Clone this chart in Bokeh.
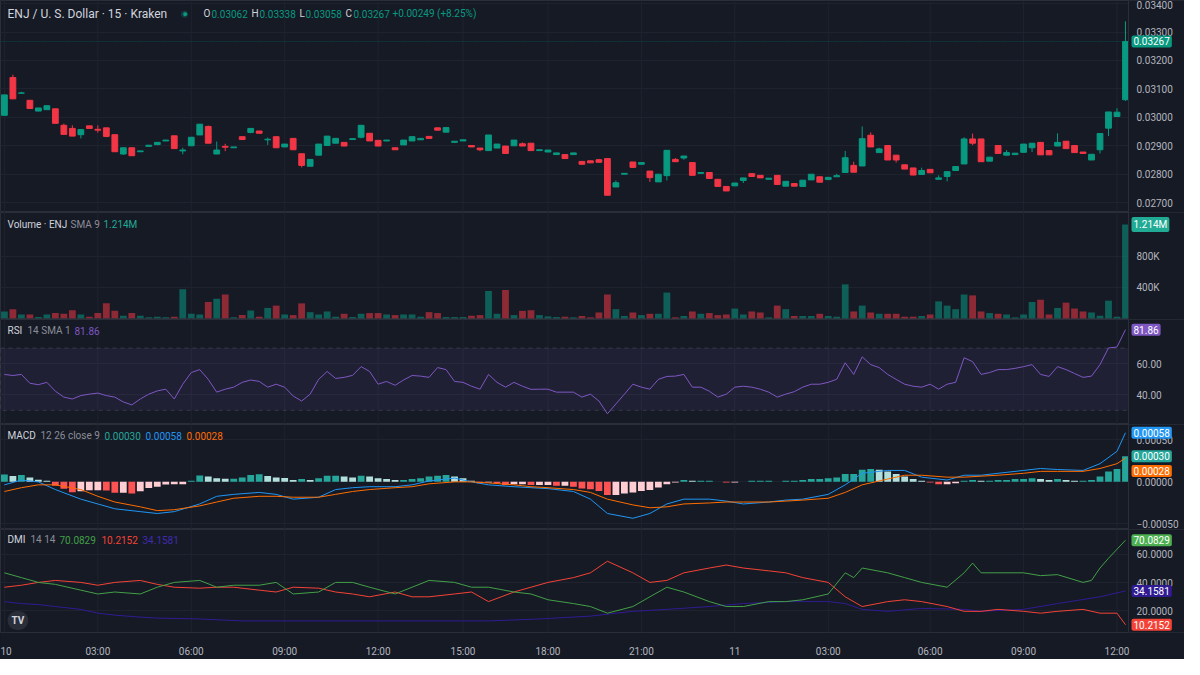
from bokeh.plotting import figure
from bokeh.models import Range1d, FixedTicker, Label, ColumnDataSource, Span, BoxAnnotation, PrintfTickFormatter
from bokeh.layouts import column
from bokeh.embed import file_html
from bokeh.resources import INLINE

# ---------------- data ----------------
opens = [0.03007,0.03140,0.03085,0.03060,0.03022,0.03027,0.03030,0.02972,0.02961,0.02939,
         0.02970,0.02958,0.02963,0.02939,0.02871,0.02893,0.02879,0.02898,0.02904,0.02917,
         0.02935,0.02882,0.02900,0.02938,0.02968,0.02871,0.02898,0.02893,0.02932,0.02947,
         0.02952,0.02921,0.02932,0.02896,0.02926,0.02872,0.02828,0.02867,0.02901,0.02909,
         0.02912,0.02922,0.02930,0.02944,0.02919,0.02917,0.02893,0.02903,0.02917,0.02921,
         0.02933,0.02963,0.02948,0.02912,0.02917,0.02901,0.02892,0.02883,0.02892,0.02899,
         0.02900,0.02907,0.02909,0.02883,0.02878,0.02869,0.02869,0.02869,0.02845,0.02847,
         0.02851,0.02855,0.02755,0.02800,0.02843,0.02835,0.02811,0.02773,0.02795,0.02852,
         0.02857,0.02841,0.02803,0.02806,0.02782,0.02757,0.02759,0.02778,0.02802,0.02796,
         0.02782,0.02796,0.02758,0.02767,0.02757,0.02780,0.02791,0.02781,0.02791,0.02806,
         0.02831,0.02829,0.02937,0.02876,0.02901,0.02867,0.02833,0.02822,0.02799,0.02817,
         0.02782,0.02792,0.02813,0.02836,0.02924,0.02924,0.02846,0.02901,0.02867,0.02869,
         0.02877,0.02893,0.02912,0.02883,0.02899,0.02916,0.02901,0.02878,0.02850,0.02886,
         0.02962,0.03003,0.03062]
highs = [0.03079,0.03150,0.03090,0.03060,0.03033,0.03043,0.03030,0.02978,0.02972,0.02957,
         0.02970,0.02972,0.02963,0.02939,0.02893,0.02893,0.02882,0.02902,0.02912,0.02920,
         0.02935,0.02893,0.02930,0.02976,0.02971,0.02915,0.02907,0.02896,0.02932,0.02961,
         0.02952,0.02929,0.02932,0.02906,0.02926,0.02872,0.02852,0.02906,0.02934,0.02926,
         0.02912,0.02925,0.02972,0.02944,0.02919,0.02920,0.02893,0.02920,0.02934,0.02926,
         0.02933,0.02963,0.02964,0.02916,0.02921,0.02901,0.02892,0.02938,0.02906,0.02899,
         0.02920,0.02912,0.02909,0.02886,0.02885,0.02875,0.02869,0.02875,0.02845,0.02847,
         0.02854,0.02855,0.02778,0.02803,0.02843,0.02841,0.02811,0.02800,0.02884,0.02857,
         0.02864,0.02841,0.02806,0.02806,0.02782,0.02757,0.02769,0.02787,0.02802,0.02796,
         0.02786,0.02796,0.02775,0.02767,0.02779,0.02800,0.02791,0.02789,0.02802,0.02882,
         0.02844,0.02968,0.02947,0.02893,0.02901,0.02867,0.02833,0.02822,0.02823,0.02817,
         0.02796,0.02809,0.02827,0.02930,0.02943,0.02924,0.02860,0.02901,0.02885,0.02874,
         0.02906,0.02909,0.02912,0.02883,0.02944,0.02916,0.02901,0.02878,0.02870,0.02943,
         0.03019,0.03032,0.03338]
lows = [0.03007,0.03065,0.03083,0.03031,0.03022,0.03027,0.02979,0.02940,0.02934,0.02926,
        0.02961,0.02946,0.02930,0.02879,0.02868,0.02865,0.02879,0.02898,0.02904,0.02917,
        0.02890,0.02870,0.02900,0.02938,0.02909,0.02871,0.02881,0.02893,0.02922,0.02944,
        0.02944,0.02903,0.02893,0.02896,0.02886,0.02824,0.02828,0.02867,0.02901,0.02909,
        0.02899,0.02922,0.02926,0.02917,0.02899,0.02917,0.02886,0.02903,0.02917,0.02921,
        0.02926,0.02955,0.02948,0.02912,0.02917,0.02896,0.02881,0.02883,0.02892,0.02873,
        0.02900,0.02899,0.02883,0.02883,0.02878,0.02869,0.02855,0.02869,0.02835,0.02840,
        0.02842,0.02726,0.02755,0.02800,0.02824,0.02835,0.02773,0.02773,0.02778,0.02844,
        0.02851,0.02796,0.02803,0.02785,0.02757,0.02741,0.02759,0.02769,0.02792,0.02787,
        0.02782,0.02764,0.02758,0.02758,0.02757,0.02780,0.02772,0.02781,0.02791,0.02806,
        0.02807,0.02829,0.02896,0.02876,0.02850,0.02841,0.02818,0.02797,0.02799,0.02805,
        0.02782,0.02775,0.02813,0.02836,0.02902,0.02844,0.02846,0.02873,0.02867,0.02869,
        0.02877,0.02878,0.02868,0.02868,0.02899,0.02890,0.02876,0.02873,0.02850,0.02873,
        0.02934,0.03003,0.03058]
closes = [0.03079,0.03065,0.03086,0.03031,0.03033,0.03041,0.02979,0.02940,0.02934,0.02957,
          0.02961,0.02955,0.02933,0.02879,0.02893,0.02865,0.02882,0.02902,0.02912,0.02920,
          0.02890,0.02885,0.02930,0.02976,0.02909,0.02885,0.02895,0.02896,0.02922,0.02961,
          0.02944,0.02923,0.02893,0.02906,0.02886,0.02831,0.02852,0.02906,0.02934,0.02926,
          0.02899,0.02925,0.02972,0.02917,0.02899,0.02920,0.02886,0.02920,0.02932,0.02926,
          0.02926,0.02955,0.02964,0.02916,0.02921,0.02896,0.02886,0.02938,0.02906,0.02873,
          0.02920,0.02899,0.02883,0.02886,0.02885,0.02875,0.02855,0.02875,0.02835,0.02840,
          0.02842,0.02726,0.02770,0.02803,0.02824,0.02841,0.02788,0.02800,0.02884,0.02844,
          0.02864,0.02796,0.02806,0.02785,0.02757,0.02741,0.02769,0.02787,0.02792,0.02787,
          0.02786,0.02764,0.02775,0.02758,0.02779,0.02800,0.02772,0.02789,0.02795,0.02858,
          0.02807,0.02925,0.02896,0.02889,0.02850,0.02850,0.02818,0.02797,0.02813,0.02805,
          0.02787,0.02809,0.02827,0.02924,0.02909,0.02844,0.02860,0.02873,0.02876,0.02874,
          0.02906,0.02909,0.02868,0.02868,0.02912,0.02890,0.02876,0.02873,0.02870,0.02943,
          0.03019,0.03018,0.03267]
volumes = [89e3,119e3,50e3,50e3,17e3,50e3,68e3,59e3,105e3,50e3,
           21e3,68e3,194e3,97e3,34e3,68e3,34e3,13e3,21e3,13e3,
           21e3,376e3,59e3,50e3,212e3,254e3,309e3,13e3,42e3,102e3,
           21e3,135e3,165e3,50e3,42e3,194e3,80e3,50e3,89e3,21e3,
           59e3,17e3,59e3,68e3,68e3,50e3,42e3,50e3,50e3,21e3,
           80e3,68e3,17e3,17e3,17e3,34e3,42e3,355e3,59e3,367e3,
           42e3,97e3,105e3,42e3,25e3,17e3,21e3,13e3,30e3,13e3,
           76e3,309e3,119e3,30e3,76e3,42e3,59e3,59e3,334e3,13e3,
           30e3,89e3,59e3,68e3,42e3,50e3,127e3,50e3,89e3,76e3,
           13e3,165e3,119e3,30e3,30e3,30e3,59e3,30e3,21e3,440e3,
           89e3,165e3,76e3,59e3,59e3,59e3,21e3,21e3,30e3,50e3,
           220e3,165e3,119e3,309e3,297e3,89e3,68e3,59e3,50e3,13e3,
           50e3,212e3,241e3,50e3,135e3,203e3,127e3,89e3,76e3,34e3,
           229e3,21e3,1214e3]

rsi = [53.1,52.4,53.1,47.4,46.5,48.0,42.3,38.5,37.3,39.5,40.4,41.1,39.5,38.5,35.4,33.5,37.3,40.4,42.5,43.6,
       37.3,46.8,54.3,56.2,49.9,41.7,43.6,44.9,48.0,49.5,48.6,44.9,46.8,44.9,39.2,36.0,40.4,49.9,55.0,50.5,
       51.2,52.5,58.1,55.0,46.8,48.6,46.1,49.5,52.4,52.0,51.2,57.5,56.2,48.6,48.0,45.5,43.6,53.1,48.0,44.9,
       48.0,45.5,43.5,43.6,43.6,41.7,41.7,41.7,38.5,40.4,36.0,27.8,34.1,40.4,46.8,44.9,43.6,49.9,51.8,52.0,
       53.1,44.9,44.9,42.3,38.5,40.4,44.9,45.5,44.9,43.6,41.7,38.5,40.4,42.0,44.9,46.8,46.8,48.0,50.0,60.6,
       53.1,64.4,59.4,57.5,53.1,49.9,46.8,45.5,44.9,46.8,43.6,46.8,48.0,63.8,61.3,53.1,54.3,56.2,56.2,57.0,
       58.1,59.4,53.1,51.8,58.1,56.2,53.7,51.2,52.0,59.4,70.1,70.7,81.86]

macd_idx = [0,2,4,6,9,11,13,16,18,20,23,25,27,30,32,34,37,39,41,43,46,48,50,53,55,57,60,62,64,67,
            69,71,74,76,78,80,83,85,87,90,92,94,97,99,101,104,106,108,111,113,115,117,120,122,124,127,129,131,132]
macd_line = [-0.000038,0.000019,-0.000003,-0.000094,-0.000208,-0.000265,-0.000322,-0.000356,-0.000378,-0.000356,
             -0.000265,-0.000174,-0.000151,-0.000128,-0.000151,-0.000208,-0.000185,-0.000094,-0.000072,-0.000060,
             -0.000060,-0.000038,0.000008,0.000042,-0.000003,-0.000038,-0.000060,-0.000072,-0.000083,-0.000117,
             -0.000208,-0.000378,-0.000435,-0.000378,-0.000265,-0.000208,-0.000208,-0.000231,-0.000265,-0.000242,
             -0.000219,-0.000208,-0.000151,-0.000038,0.000099,0.000133,0.000133,0.000053,0.000019,0.000076,
             0.000076,0.000099,0.000133,0.000156,0.000144,0.000133,0.000213,0.000360,0.00058]
signal_line = [-0.000117,-0.000072,-0.000038,-0.000038,-0.000094,-0.000174,-0.000242,-0.000299,-0.000344,-0.000333,
               -0.000288,-0.000242,-0.000197,-0.000174,-0.000174,-0.000185,-0.000185,-0.000151,-0.000117,-0.000094,
               -0.000072,-0.000060,-0.000026,-0.000003,-0.000003,-0.000015,-0.000038,-0.000060,-0.000072,-0.000094,
               -0.000128,-0.000208,-0.000276,-0.000310,-0.000299,-0.000265,-0.000253,-0.000242,-0.000242,-0.000242,
               -0.000231,-0.000219,-0.000197,-0.000128,-0.000038,0.000031,0.000076,0.000076,0.000053,0.000053,
               0.000065,0.000076,0.000099,0.000122,0.000122,0.000122,0.000156,0.000213,0.00028]
macd_hist = [0.000085,0.000068,0.000080,0.000050,0.000023,0.000011,-0.000049,-0.000083,-0.000125,-0.000114,
             -0.000102,-0.000102,-0.000106,-0.000132,-0.000132,-0.000140,-0.000114,-0.000075,-0.000060,-0.000034,
             -0.000030,-0.000030,0.000011,0.000073,0.000061,0.000039,0.000035,0.000035,0.000050,0.000080,
             0.000087,0.000068,0.000050,0.000042,0.000019,0.000030,0.000020,0.000040,0.000070,0.000070,
             0.000060,0.000050,0.000070,0.000060,0.000040,0.000030,0.000020,0.000020,0.000030,0.000040,
             0.000060,0.000070,0.000080,0.000060,0.000040,0.000010,-0.000020,-0.000010,-0.000020,-0.000040,
             -0.000030,-0.000030,-0.000040,-0.000040,-0.000040,-0.000050,-0.000050,-0.000060,-0.000080,-0.000090,
             -0.000110,-0.000160,-0.000160,-0.000140,-0.000130,-0.000110,-0.000100,-0.000070,-0.000030,-0.000010,
             0.000020,0.000010,0.000010,0.000010,0.000000,-0.000010,-0.000010,0.000000,0.000010,0.000010,
             0.000010,0.000000,0.000010,0.000010,0.000020,0.000030,0.000030,0.000040,0.000050,0.000090,
             0.000090,0.000140,0.000150,0.000140,0.000120,0.000090,0.000060,0.000030,0.000010,-0.000010,
             -0.000030,-0.000030,-0.000020,0.000010,0.000020,0.000010,0.000010,0.000020,0.000020,0.000030,
             0.000030,0.000040,0.000030,0.000020,0.000030,0.000020,0.000010,0.000010,0.000020,0.000060,
             0.000120,0.000150,0.000300]

pdi_idx = [0,2,4,6,9,11,13,16,18,20,23,25,27,30,32,34,37,39,41,43,46,48,50,53,55,57,60,62,64,67,
           69,71,74,76,78,80,83,85,87,90,92,94,97,99,100,101,104,106,108,111,113,114,115,117,120,122,124,127,128,129,130,132]
pdi = [47.0,43.6,40.2,38.8,34.7,32.0,33.4,32.0,36.8,40.2,41.6,36.8,38.2,38.2,40.2,32.0,33.4,40.2,40.2,36.8,
       32.0,36.8,41.6,40.2,36.8,36.8,33.4,32.0,27.9,25.2,23.1,18.4,23.1,30.0,36.8,33.4,26.6,23.1,23.1,26.6,
       26.6,27.9,32.0,47.0,43.6,50.4,47.0,43.6,40.2,36.8,47.0,53.9,47.0,47.0,47.0,45.0,45.7,40.2,41.6,50.4,
       57.3,70.0829]
mdi_idx = [0,2,4,6,9,11,13,16,18,20,23,25,27,30,32,34,37,39,41,43,46,48,50,53,55,57,60,62,64,67,
           69,71,74,76,78,80,83,85,87,90,92,94,97,99,101,104,106,108,111,113,115,117,120,122,124,127,129,131,132]
mdi = [36.8,38.2,40.2,41.6,40.2,38.2,40.2,41.6,38.8,36.8,36.1,36.8,36.8,34.7,33.4,36.8,36.1,33.4,32.0,30.0,
       33.4,30.0,30.0,32.0,33.4,26.6,33.4,36.8,40.2,43.6,47.0,55.2,47.0,40.2,41.6,47.0,50.4,52.5,50.4,48.4,
       47.0,43.6,40.2,30.0,23.1,26.6,27.9,26.6,23.1,19.7,19.7,21.1,19.7,18.4,19.7,21.1,18.4,18.4,10.2152]
adx_idx = [0,2,4,6,9,11,13,16,18,23,28,34,40,46,52,57,63,69,74,78,83,87,92,97,99,101,104,108,113,115,120,124,129,132]
adx = [26.6,25.2,24.5,23.1,21.1,18.4,17.0,15.6,14.9,14.3,12.9,12.9,12.9,12.9,12.9,12.9,14.3,16.3,19.7,21.1,
       23.1,25.2,26.6,26.6,25.2,21.1,19.7,21.8,21.1,19.7,21.1,25.2,30.0,34.1581]

time_tick_idx = [0, 11, 22, 33, 44, 54, 64, 75, 86, 97, 109, 120, 131]
time_tick_labels = ["10", "03:00", "06:00", "09:00", "12:00", "15:00", "18:00", "21:00",
                    "11", "03:00", "06:00", "09:00", "12:00"]
price_ticks = [0.027, 0.028, 0.029, 0.030, 0.031, 0.032, 0.033, 0.034]
volume_ticks = [400000, 800000]
volume_tick_labels = ["400K", "800K"]
rsi_ticks = [40, 60]
macd_ticks = [-0.0005, 0.0, 0.0005]
macd_tick_labels = ["\u22120.00050", "0.00000", "0.00050"]
dmi_ticks = [20, 40, 60]

# ---------------- style ----------------
BG = "#161a25"
GRID = "#1f2330"
BORDER = "#2a2e39"
TXT = "#b2b5be"
TITLE = "#d1d4dc"
DIM = "#8b8e98"
UP = "#089981"
DN = "#f23645"
FONT = "Roboto"
W = 1184
FW = 1128            # width of the chart area; the price scale sits to its right
PX = 8.493           # pixels per bar
X0 = -0.46
XEND = X0 + W / PX
XSCALE = X0 + FW / PX  # boundary between chart area and price scale (in bar units)

n = len(opens)
idx = list(range(n))
xr = Range1d(X0, XEND)


def make_fig(h, yr, ticks, fmt=None, overrides=None, bottom=0, xaxis=False):
    p = figure(width=W, height=h, x_range=xr, y_range=Range1d(*yr), output_backend="svg",
               toolbar_location=None, y_axis_location="right",
               x_axis_location="below" if xaxis else None,
               min_border_left=0, min_border_right=0, min_border_top=0, min_border_bottom=bottom,
               background_fill_color=BG, border_fill_color=BG, outline_line_color=BORDER)
    p.xgrid.visible = False
    ax = p.yaxis[0]
    ax.ticker = FixedTicker(ticks=ticks)
    if fmt:
        ax.formatter = PrintfTickFormatter(format=fmt)
    if overrides:
        ax.major_label_overrides = overrides
    ax.axis_line_color = None
    ax.major_tick_line_color = None
    ax.minor_tick_line_color = None
    ax.major_tick_out = 0
    ax.major_tick_in = 0
    ax.major_label_text_color = TXT
    ax.major_label_text_font = FONT
    ax.major_label_text_font_size = "10px"
    ax.major_label_standoff = -(W - FW - 8)
    p.ygrid.grid_line_color = GRID
    # price-scale area: covers the grid lines there
    p.add_layout(BoxAnnotation(left=XSCALE, fill_color=BG, fill_alpha=1.0, line_color=None, level="underlay"))
    p.add_layout(Span(location=XSCALE, dimension="height", line_color=BORDER, line_width=1))
    for t in time_tick_idx:
        p.add_layout(Span(location=t, dimension="height", line_color=GRID, line_width=1, level="underlay"))
    if xaxis:
        xa = p.xaxis[0]
        xa.ticker = FixedTicker(ticks=time_tick_idx)
        xa.major_label_overrides = {t: l for t, l in zip(time_tick_idx, time_tick_labels)}
        xa.axis_line_color = None
        xa.major_tick_line_color = None
        xa.minor_tick_line_color = None
        xa.major_label_text_color = TXT
        xa.major_label_text_font = FONT
        xa.major_label_text_font_size = "10px"
        xa.major_label_standoff = 7
    return p


def txt(p, x, y, text, color, size="10px"):
    p.add_layout(Label(x=x, y=y, x_units="screen", y_units="screen", text=text, text_color=color,
                       text_font=FONT, text_font_size=size, text_baseline="middle"))


def tag(p, yv, text, color, text_color="#ffffff", yoff=0):
    p.add_layout(Label(x=FW + 3, y=yv, x_units="screen", y_units="data", y_offset=yoff, text=text,
                       text_color=text_color, text_font=FONT, text_font_size="10px",
                       text_baseline="middle", background_fill_color=color, padding=2,
                       border_radius=2, level="overlay"))


# ---------------- price pane ----------------
H1, H2, H3, H4, H5 = 212, 107, 105, 105, 130
p1 = make_fig(H1, (0.026653, 0.034110), price_ticks, fmt="%.5f")
col = [UP if c >= o else DN for o, c in zip(opens, closes)]
src = ColumnDataSource(dict(x=idx, o=opens, h=highs, l=lows, c=closes,
                            top=[max(o, c) for o, c in zip(opens, closes)],
                            bot=[min(o, c) for o, c in zip(opens, closes)], col=col, v=volumes))
p1.segment(x0="x", y0="l", x1="x", y1="h", color="col", line_width=1, source=src)
p1.vbar(x="x", width=0.68, top="top", bottom="bot", fill_color="col", line_color="col", line_width=1, source=src)
p1.add_layout(BoxAnnotation(bottom=closes[-1], top=closes[-1], right=XSCALE, fill_alpha=0,
                            line_color=UP, line_dash="1 2", line_width=1))
tag(p1, closes[-1], "%.5f" % closes[-1], UP)

y0 = H1 - 13
txt(p1, 7, y0, "ENJ / U. S. Dollar \u00b7 15 \u00b7 Kraken", TITLE, "12px")
p1.add_layout(Label(x=179, y=y0, x_units="screen", y_units="screen", text="\u25cf", text_color=UP,
                    text_alpha=0.25, text_font_size="17px", text_baseline="middle"))
p1.add_layout(Label(x=182, y=y0, x_units="screen", y_units="screen", text="\u25cf", text_color=UP,
                    text_font_size="9px", text_baseline="middle"))
chg = closes[-1] - closes[-2]
ohlc = [("O", opens[-1], 203), ("H", highs[-1], 251), ("L", lows[-1], 299), ("C", closes[-1], 345)]
for k, v, x in ohlc:
    txt(p1, x, y0, k, TITLE)
    txt(p1, x + (6 if k == "L" else 8), y0, "%.5f" % v, UP)
txt(p1, 392, y0, "+%.5f (+%.2f%%)" % (chg, chg / closes[-2] * 100), UP)

# ---------------- volume pane ----------------
p2 = make_fig(H2, (-15000, 1371000), volume_ticks,
              overrides={t: l for t, l in zip(volume_ticks, volume_tick_labels)})
p2.vbar(x="x", width=0.8, top="v", bottom=0, fill_color="col", fill_alpha=0.55, line_color=None, source=src)
tag(p2, volumes[-1], "%.3fM" % (volumes[-1] / 1e6), "#22ab94")
y0 = H2 - 12
txt(p2, 7, y0, "Volume \u00b7 ENJ", TITLE)
txt(p2, 70, y0, "SMA 9", DIM)
txt(p2, 103, y0, "%.3fM" % (volumes[-1] / 1e6), "#22ab94")

# ---------------- RSI pane ----------------
p3 = make_fig(H3, (20.9, 88.4), rsi_ticks, fmt="%.2f")
p3.add_layout(BoxAnnotation(bottom=30, top=70, right=XSCALE, fill_color="#7e57c2", fill_alpha=0.1,
                            line_color="#787b86", line_dash="4 4", line_width=1, level="underlay"))
p3.line(idx, rsi, line_color="#7e57c2", line_width=1)
tag(p3, rsi[-1], "%.2f" % rsi[-1], "#7e57c2")
y0 = H3 - 11
txt(p3, 7, y0, "RSI", TITLE)
txt(p3, 27, y0, "14 SMA 1", DIM)
txt(p3, 74, y0, "%.2f" % rsi[-1], "#7e57c2")

# ---------------- MACD pane ----------------
p4 = make_fig(H4, (-0.000568, 0.000678), macd_ticks,
              overrides={t: l for t, l in zip(macd_ticks, macd_tick_labels)})
hcol = []
for i, hv in enumerate(macd_hist):
    prev = macd_hist[i - 1] if i > 0 else hv
    if hv >= 0:
        hcol.append("#26a69a" if hv >= prev else "#b2dfdb")
    else:
        hcol.append("#ff5252" if hv < prev else "#ffcdd2")
p4.vbar(x=idx, width=0.8, top=macd_hist, bottom=0, fill_color=hcol, line_color=None)
p4.line(macd_idx, macd_line, line_color="#2196f3", line_width=1)
p4.line(macd_idx, signal_line, line_color="#ff6d00", line_width=1)
tag(p4, macd_line[-1], "%.5f" % macd_line[-1], "#2196f3")
tag(p4, macd_hist[-1], "%.5f" % macd_hist[-1], "#26a69a")
tag(p4, signal_line[-1], "%.5f" % signal_line[-1], "#ff6d00", yoff=-13)
y0 = H4 - 11
txt(p4, 7, y0, "MACD", TITLE)
txt(p4, 40, y0, "12 26 close 9", DIM)
txt(p4, 104, y0, "%.5f" % macd_hist[-1], "#26a69a")
txt(p4, 145, y0, "%.5f" % macd_line[-1], "#2196f3")
txt(p4, 186, y0, "%.5f" % signal_line[-1], "#ff6d00")

# ---------------- DMI pane ----------------
p5 = make_fig(H5, (4.7, 77.7), dmi_ticks, fmt="%.4f", bottom=25, xaxis=True)
p5.line(adx_idx, adx, line_color="#311b92", line_width=1)
p5.line(mdi_idx, mdi, line_color="#f44336", line_width=1)
p5.line(pdi_idx, pdi, line_color="#43a047", line_width=1)
tag(p5, pdi[-1], "%.4f" % pdi[-1], "#4caf50")
tag(p5, adx[-1], "%.4f" % adx[-1], "#311b92")
tag(p5, mdi[-1], "%.4f" % mdi[-1], "#f44336")
y0 = 105 - 12
txt(p5, 7, y0, "DMI", TITLE)
txt(p5, 30, y0, "14 14", DIM)
txt(p5, 59, y0, "%.4f" % pdi[-1], "#43a047")
txt(p5, 101, y0, "%.4f" % mdi[-1], "#f44336")
txt(p5, 142, y0, "%.4f" % adx[-1], "#3f2bb0")
p5.add_layout(Label(x=7, y=12, x_units="screen", y_units="screen", text="TV", text_color="#d1d4dc",
                    text_font=FONT, text_font_size="10px", text_font_style="bold", text_baseline="middle",
                    background_fill_color="#2a2e39", padding=4, border_radius=10))

layout = column(p1, p2, p3, p4, p5, spacing=0, background=BG)
open("out.html", "w").write(file_html(layout, INLINE))
